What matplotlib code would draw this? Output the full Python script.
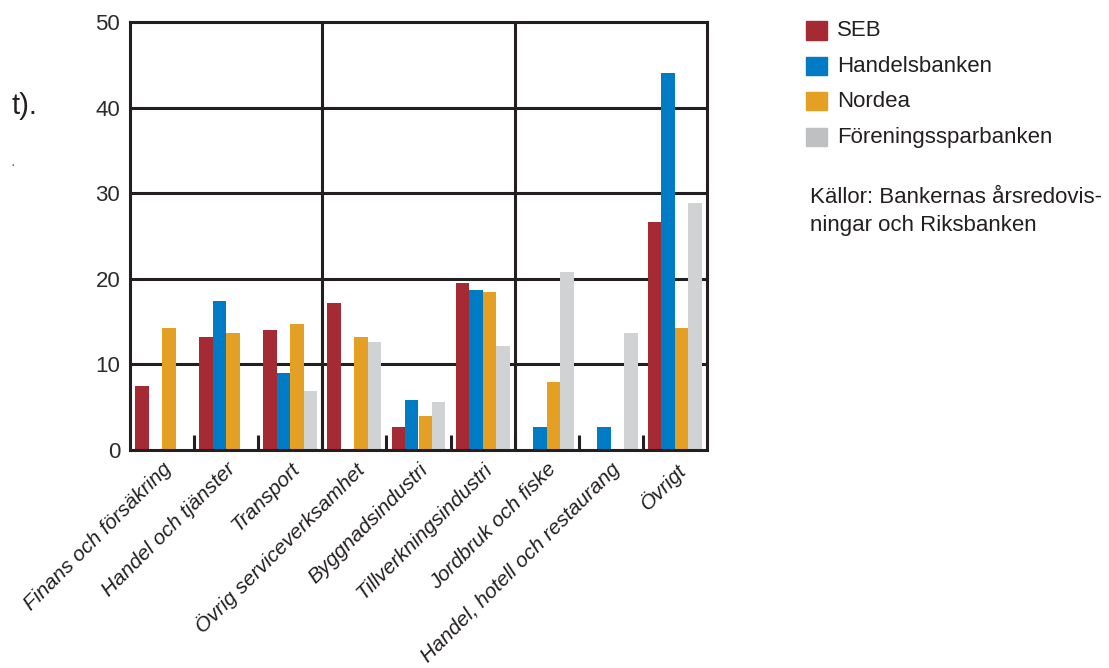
import matplotlib
matplotlib.use("Agg")
import matplotlib.pyplot as plt
from matplotlib.patches import Rectangle
import numpy as np

plt.rcParams['font.family'] = ['Liberation Sans', 'DejaVu Sans']

categories = ["Finans och försäkring", "Handel och tjänster", "Transport",
              "Övrig serviceverksamhet", "Byggnadsindustri", "Tillverkningsindustri",
              "Jordbruk och fiske", "Handel, hotell och restaurang", "Övrigt"]
series_names = ["SEB", "Handelsbanken", "Nordea", "Föreningssparbanken"]
seb = [7.5, 13.2, 14.0, 17.2, 2.7, 19.5, 0, 0, 26.6]
handelsbanken = [0, 17.4, 9.0, 0, 5.8, 18.7, 2.7, 2.7, 44.1]
nordea = [14.3, 13.7, 14.7, 13.2, 4.0, 18.5, 8.0, 0, 14.3]
foreningssparbanken = [0, 0, 6.9, 12.6, 5.6, 12.2, 20.8, 13.7, 28.9]
yticks = [0, 10, 20, 30, 40, 50]
source_text = "Källor: Bankernas årsredovis-\nningar och Riksbanken"

colors = ["#a52a33", "#007bc4", "#e3a025", "#d1d2d4"]
legend_colors = ["#a52a33", "#007bc4", "#e3a025", "#bfc0c2"]
dark = "#231f20"

fig = plt.figure(figsize=(11.09, 6.68), dpi=100)
ax = fig.add_axes([130/1109, 1-450/668, 577/1109, 428/668])

x = np.arange(len(categories))
w = 0.21
data = [seb, handelsbanken, nordea, foreningssparbanken]
for i, (vals, c) in enumerate(zip(data, colors)):
    ax.bar(x + (i - 1.5) * w, vals, width=w, color=c, zorder=3, linewidth=0)

ax.set_xlim(-0.5, len(categories) - 0.5)
ax.set_ylim(0, 50)
lw = 2.2
for yv in yticks[1:-1]:
    ax.axhline(yv, color=dark, lw=lw, zorder=1)
for xv in [2.5, 5.5]:
    ax.axvline(xv, color=dark, lw=lw, zorder=1)
for s in ax.spines.values():
    s.set_linewidth(lw)
    s.set_color(dark)
    s.set_zorder(4)

ax.set_yticks(yticks)
ax.set_yticklabels([str(v) for v in yticks], fontsize=16, color="#2b2b2b")
ax.tick_params(axis='y', length=0, pad=7)

ax.set_xticks(x)
ax.set_xticklabels(categories, fontsize=15, style='italic', color=dark,
                   rotation=45, ha='right', va='top', rotation_mode='anchor')
ax.tick_params(axis='x', which='major', length=0, pad=7)
ax.set_xticks(np.arange(len(categories) - 1) + 0.5, minor=True)
ax.tick_params(axis='x', which='minor', direction='in', length=10.5, width=lw, color=dark)

# legend
y0 = 1 - 30.5/668
dy = 35.5/668
for i, (name, c) in enumerate(zip(series_names, legend_colors)):
    yc = y0 - i * dy
    fig.patches.append(Rectangle((806/1109, yc - 9/668), 21/1109, 18/668,
                                 transform=fig.transFigure, color=c, figure=fig))
    fig.text(837/1109, yc, name, fontsize=16, color=dark, va='center', ha='left')

fig.text(810/1109, 1 - 187/668, source_text, fontsize=16, color=dark,
         va='top', ha='left', linespacing=1.45)

# cropped text fragments at left edge
fig.text(12/1109, 1 - 106/668, "t).", fontsize=21, color=dark, va='center', ha='left')
fig.text(11/1109, 1 - 162/668, ".", fontsize=12, color="#777777", va='center', ha='left')

fig.savefig("out.png", dpi=100)
